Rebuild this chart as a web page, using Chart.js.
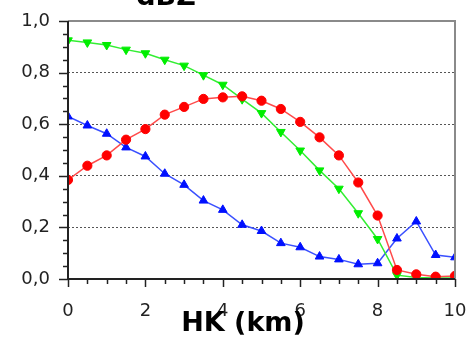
<!DOCTYPE html>
<html>
<head>
<meta charset="utf-8">
<script src="https://cdn.jsdelivr.net/npm/chart.js@4/dist/chart.umd.min.js"></script>
<style>
html,body{margin:0;padding:0;background:#fff;}
#wrap{width:467px;height:346px;position:relative;}
</style>
</head>
<body>
<div id="wrap"><canvas id="c" width="467" height="346"></canvas></div>
<script>
const hk = [0,0.5,1,1.5,2,2.5,3,3.5,4,4.5,5,5.5,6,6.5,7,7.5,8,8.5,9,9.5,10];
const redSeries = [0.384,0.439,0.479,0.540,0.581,0.637,0.667,0.698,0.704,0.708,0.691,0.659,0.609,0.549,0.479,0.374,0.246,0.035,0.018,0.009,0.012];
const greenSeries = [0.925,0.917,0.907,0.889,0.875,0.850,0.827,0.790,0.753,0.697,0.643,0.570,0.498,0.421,0.350,0.255,0.155,0.015,0.006,0.004,0.004];
const blueSeries = [0.630,0.595,0.563,0.510,0.475,0.408,0.365,0.304,0.268,0.210,0.186,0.139,0.123,0.087,0.076,0.057,0.061,0.157,0.223,0.093,0.084];
const yTicks = ['0,0','0,2','0,4','0,6','0,8','1,0'];
const xTicks = ['0','2','4','6','8','10'];
const topTitle = 'dBZ';
const xTitle = 'HK (km)';

const pts = arr => arr.map((v,i)=>({x:hk[i], y:v}));

const decor = {
  id:'decor',
  afterDatasetsDraw(chart){
    const ctx = chart.ctx, a = chart.chartArea;
    const xs = chart.scales.x, ys = chart.scales.y;
    ctx.save();
    // top & right frame
    ctx.strokeStyle = '#8a8a8a';
    ctx.lineWidth = 2;
    ctx.beginPath();
    ctx.moveTo(a.left, a.top); ctx.lineTo(a.right, a.top); ctx.lineTo(a.right, a.bottom);
    ctx.stroke();
    // left & bottom axes
    ctx.strokeStyle = '#222';
    ctx.lineWidth = 2;
    ctx.beginPath();
    ctx.moveTo(a.left, a.top); ctx.lineTo(a.left, a.bottom); ctx.lineTo(a.right, a.bottom);
    ctx.stroke();
    // ticks
    ctx.lineWidth = 1.5;
    for (let i=0;i<=20;i++){
      const v = i*0.05;
      const py = Math.round(ys.getPixelForValue(v))+0.5;
      const len = (i%4===0)?9:5;
      ctx.beginPath(); ctx.moveTo(a.left-len, py); ctx.lineTo(a.left, py); ctx.stroke();
    }
    for (let i=0;i<=20;i++){
      const v = i*0.5;
      const px = Math.round(xs.getPixelForValue(v))+0.5;
      const len = (i%4===0)?8:5;
      ctx.beginPath(); ctx.moveTo(px, a.bottom); ctx.lineTo(px, a.bottom+len); ctx.stroke();
    }
    ctx.restore();
  },
  afterDraw(chart){
    const ctx = chart.ctx;
    ctx.save();
    ctx.fillStyle = '#000';
    ctx.font = 'bold 27px "DejaVu Sans"';
    ctx.textAlign = 'center';
    ctx.textBaseline = 'alphabetic';
    ctx.fillText(topTitle, 166, 5);
    ctx.fillText(xTitle, 243, 331);
    ctx.restore();
  }
};

new Chart(document.getElementById('c'), {
  type:'line',
  data:{
    datasets:[
      {label:'red', data:pts(redSeries), borderColor:'#ff4a4a', backgroundColor:'#ff0000', pointBackgroundColor:'#ff0000', pointBorderColor:'#ff0000', borderWidth:1.5, pointStyle:'circle', pointRadius:4.6, pointBorderWidth:1},
      {label:'green', data:pts(greenSeries), borderColor:'#33ee33', backgroundColor:'#00ff00', pointBackgroundColor:'#00ee00', pointBorderColor:'#00ee00', borderWidth:1.5, pointStyle:'triangle', pointRotation:180, pointRadius:5, pointBorderWidth:1},
      {label:'blue', data:pts(blueSeries), borderColor:'#3a50ff', backgroundColor:'#0000ff', pointBackgroundColor:'#0010ff', pointBorderColor:'#0010ff', borderWidth:1.5, pointStyle:'triangle', pointRadius:5, pointBorderWidth:1}
    ]
  },
  options:{
    responsive:false,
    animation:false,
    layout:{padding:{top:21,right:12,left:0,bottom:0}},
    plugins:{legend:{display:false},tooltip:{enabled:false},title:{display:false}},
    elements:{line:{tension:0}},
    scales:{
      x:{
        type:'linear', min:0, max:10,
        afterFit(s){ s.height = 67; s.paddingRight = 0; s.paddingLeft = 0; },
        afterBuildTicks(s){ s.ticks = xTicks.map(t=>({value:Number(t)})); },
        ticks:{ callback:(v)=>String(v), color:'#222', font:{family:'"DejaVu Sans"', size:18}, padding:22, maxRotation:0, autoSkip:false },
        grid:{ display:false, drawTicks:false },
        border:{ display:false }
      },
      y:{
        type:'linear', min:0, max:1,
        afterFit(s){ s.width = 68; s.paddingTop = 0; s.paddingBottom = 0; },
        afterBuildTicks(s){ s.ticks = yTicks.map(t=>({value:Number(t.replace(',','.'))})); },
        ticks:{ callback:(v)=>yTicks[Math.round(v*5)], color:'#222', font:{family:'"DejaVu Sans"', size:18}, padding:18, autoSkip:false },
        grid:{ drawTicks:false, color:(c)=>{ const v=c.tick?c.tick.value:0; return (v>0.01 && v<0.99)?'#555':'rgba(0,0,0,0)'; }, lineWidth:1 },
        border:{ display:false, dash:[2,2] }
      }
    }
  },
  plugins:[decor]
});
</script>
</body>
</html>
